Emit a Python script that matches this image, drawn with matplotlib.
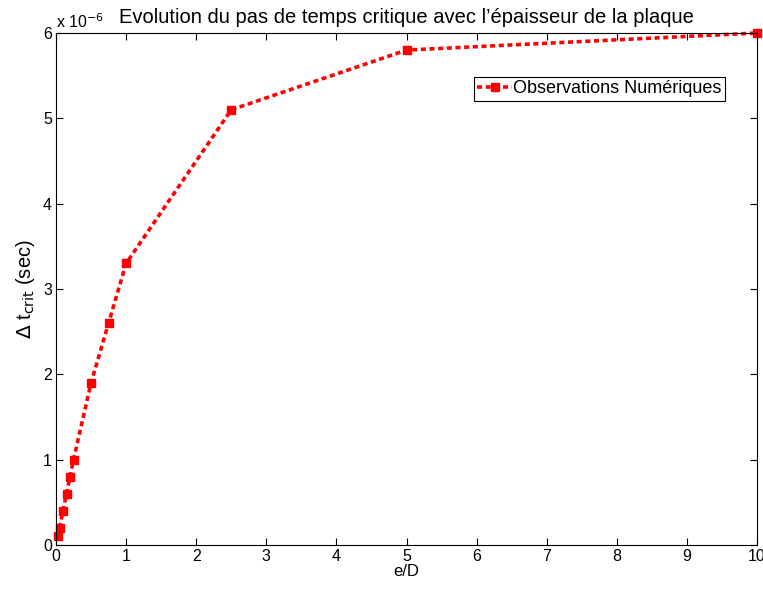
import matplotlib
matplotlib.use("Agg")
import matplotlib.pyplot as plt

plt.rcParams['font.family'] = ['Liberation Sans', 'DejaVu Sans']

e_over_D = [0.025, 0.05, 0.1, 0.15, 0.2, 0.25, 0.5, 0.75, 1.0, 2.5, 5.0, 10.0]
dt_crit = [0.1, 0.2, 0.4, 0.6, 0.8, 1.0, 1.9, 2.6, 3.3, 5.1, 5.8, 6.0]  # x 1e-6 s

fig = plt.figure(figsize=(7.63, 5.9), dpi=100)
ax = fig.add_axes([56/763, 45/590, 701/763, 512/590])

ax.plot(e_over_D, dt_crit, color='red', linestyle=(0, (1.4, 1.0)), linewidth=2.6,
        marker='s', markersize=5.5, label='Observations Numériques', clip_on=False)

ax.set_xlim(0, 10)
ax.set_ylim(0, 6)
ax.set_xticks(range(0, 11))
ax.set_yticks(range(0, 7))
ax.tick_params(direction='in', top=True, right=True, labelsize=11.5, length=5, width=0.8, pad=3)
for s in ax.spines.values():
    s.set_linewidth(0.8)

ax.set_xlabel('e/D', fontsize=12, labelpad=0)
ax.set_ylabel(r'$\Delta$ t$_{\rm crit}$ (sec)', fontsize=14.5, labelpad=4)
ax.set_title("Evolution du pas de temps critique avec l’épaisseur de la plaque", fontsize=14.5, pad=7)
ax.text(0.0, 1.003, r'x 10$^{-6}$', transform=ax.transAxes, fontsize=11.5, ha='left', va='bottom')

leg = ax.legend(loc='upper right', bbox_to_anchor=(0.955, 0.915), fontsize=13,
                fancybox=False, edgecolor='black', framealpha=1, handlelength=1.9,
                handletextpad=0.1, borderpad=0.2, borderaxespad=0)
leg.get_frame().set_linewidth(0.8)

fig.savefig('out.png', dpi=100)
